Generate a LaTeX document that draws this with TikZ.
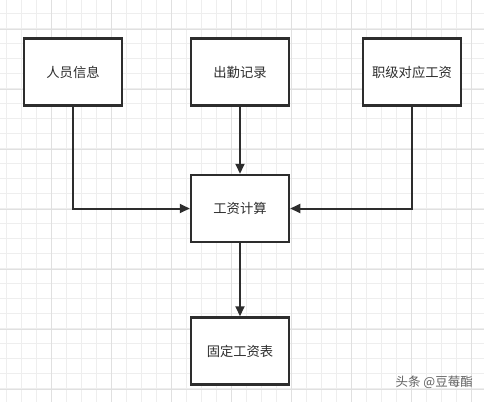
\documentclass[tikz,border=0pt]{standalone}
\usepackage{fontspec}
\newfontfamily\cjk{Noto Sans CJK SC}
\usetikzlibrary{arrows.meta}
\definecolor{gridminor}{RGB}{238,238,238}
\definecolor{gridmajor}{RGB}{224,224,224}
\definecolor{ink}{RGB}{45,45,45}
\tikzset{
  box/.style={draw=ink, line width=2.5pt, fill=white, minimum width=98pt, minimum height=67pt, inner sep=0pt, font=\cjk\fontsize{13.3}{15}\selectfont, text=ink},
  conn/.style={draw=ink, line width=2pt, -{Triangle[length=10pt,width=9pt]}}
}
\begin{document}
\begin{tikzpicture}[x=1pt,y=-1pt]
\useasboundingbox (0,0) rectangle (484,402);
\fill[white] (0,0) rectangle (484,402);
% minor grid
\foreach \i in {0,...,32} {
  \draw[gridminor, line width=0.8pt] ({6.7+15*\i},0) -- ({6.7+15*\i},402);
}
\foreach \j in {0,...,27} {
  \draw[gridminor, line width=0.8pt] (0,{-1.7+15*\j}) -- (484,{-1.7+15*\j});
}
% major grid
\foreach \i in {0,...,8} {
  \draw[gridmajor, line width=0.8pt] ({51.7+60*\i},0) -- ({51.7+60*\i},402);
}
\foreach \j in {0,...,6} {
  \draw[gridmajor, line width=0.8pt] (0,{29.3+60*\j}) -- (484,{29.3+60*\j});
}
\node[box] (ry) at (73,72) {人员信息};
\node[box] (cq) at (240,72) {出勤记录};
\node[box] (zj) at (412,72) {职级对应工资};
\node[box] (gz) at (240,208.5) {工资计算};
\node[box] (gd) at (240,351) {固定工资表};
\draw[conn] (ry.south) |- (gz.west);
\draw[conn] (cq.south) -- (gz.north);
\draw[conn] (zj.south) |- (gz.east);
\draw[conn] (gz.south) -- (gd.north);
\node[font=\cjk\fontsize{12.5}{14}\selectfont, text=black!62, anchor=east, inner sep=0pt] (wm) at (473,382) {头条 @豆莓酯};
\end{tikzpicture}
\end{document}
